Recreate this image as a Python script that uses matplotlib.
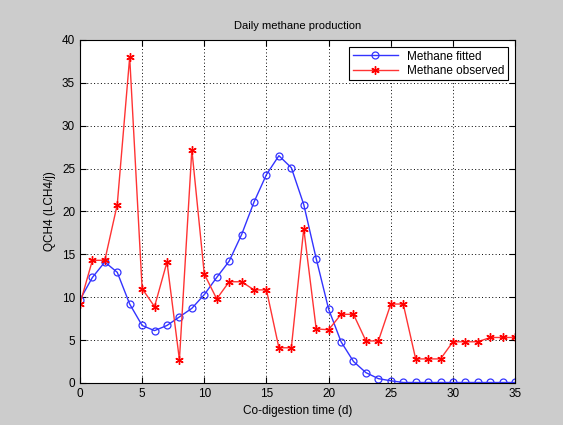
import numpy as np
import matplotlib.pyplot as plt

plt.rcParams['font.family'] = ['Liberation Sans', 'DejaVu Sans']

days = list(range(36))
fitted = [9.7, 12.3, 14.1, 12.9, 9.2, 6.7, 6.1, 6.7, 7.7, 8.7,
          10.3, 12.3, 14.2, 17.3, 21.1, 24.3, 26.5, 25.1, 20.8, 14.5,
          8.6, 4.8, 2.5, 1.2, 0.5, 0.25, 0.05, 0.05, 0.05, 0.05,
          0.05, 0.05, 0.05, 0.05, 0.05, 0.05]
observed = [9.2, 14.3, 14.3, 20.8, 38.0, 11.0, 8.9, 14.1, 2.7, 27.2,
            12.7, 9.8, 11.8, 11.8, 10.85, 10.85, 4.1, 4.1, 18.0, 6.3,
            6.2, 8.0, 8.0, 4.9, 4.9, 9.2, 9.2, 2.8, 2.8, 2.8,
            4.8, 4.8, 4.8, 5.3, 5.3, 5.3]

fig = plt.figure(figsize=(5.63, 4.25), dpi=100, facecolor='#cccccc')
ax = fig.add_axes([0.142, 0.099, 0.773, 0.807])
ax.set_facecolor('white')

ax.plot(days, fitted, color='#3333ff', lw=1, marker='o', ms=5,
        mfc='none', mec='#3333ff', mew=0.9, label='Methane fitted')
# matlab style asterisk marker
ax.plot(days, observed, color='#ff3333', lw=1, marker=(6, 2, 0), ms=6,
        mec='#ff0000', mew=1.0, label='Methane observed')

ax.set_xlim(0, 35)
ax.set_ylim(0, 40)
ax.set_xticks(range(0, 36, 5))
ax.set_yticks(range(0, 41, 5))
ax.tick_params(direction='in', top=True, right=True, labelsize=8.5, length=4)
ax.grid(True, linestyle=(0, (1, 2.5)), color='black', lw=0.7)
for s in ax.spines.values():
    s.set_linewidth(0.8)

ax.set_title('Daily methane production', fontsize=8, pad=8)
ax.set_xlabel('Co-digestion time (d)', fontsize=8.5)
ax.set_ylabel('QCH4 (LCH4/j)', fontsize=8.5)

leg = ax.legend(loc='upper right', fontsize=8.5, fancybox=False, framealpha=1,
                edgecolor='black', borderaxespad=0.6, handlelength=3.8,
                borderpad=0.3, labelspacing=0.2)
leg.get_frame().set_linewidth(0.8)

fig.savefig('out.png', dpi=100, facecolor=fig.get_facecolor())
